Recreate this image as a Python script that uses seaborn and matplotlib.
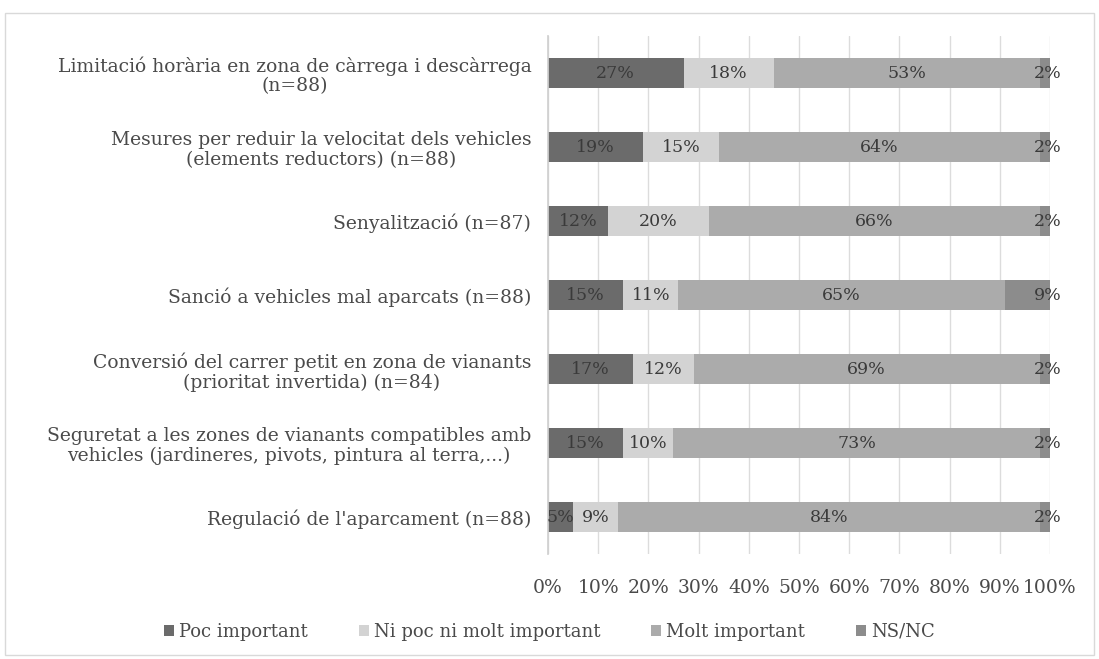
import matplotlib
matplotlib.use("Agg")
import matplotlib.pyplot as plt
import seaborn as sns
import pandas as pd
import numpy as np
from matplotlib.patches import Rectangle, Patch

categories = [
    "Limitació horària en zona de càrrega i descàrrega\n(n=88)",
    "Mesures per reduir la velocitat dels vehicles\n(elements reductors) (n=88)",
    "Senyalització (n=87)",
    "Sanció a vehicles mal aparcats (n=88)",
    "Conversió del carrer petit en zona de vianants\n(prioritat invertida) (n=84)",
    "Seguretat a les zones de vianants compatibles amb\nvehicles (jardineres, pivots, pintura al terra,...)",
    "Regulació de l'aparcament (n=88)",
]
series_names = ["Poc important", "Ni poc ni molt important", "Molt important", "NS/NC"]
poc = [27, 19, 12, 15, 17, 15, 5]
ni = [18, 15, 20, 11, 12, 10, 9]
molt = [53, 64, 66, 65, 69, 73, 84]
nsnc = [2, 2, 2, 9, 2, 2, 2]
tick_labels = ["0%", "10%", "20%", "30%", "40%", "50%", "60%", "70%", "80%", "90%", "100%"]

colors = ["#6b6b6b", "#d3d3d3", "#ababab", "#8c8c8c"]
text_color = "#4a4a4a"

sns.set_theme(style="white")
plt.rcParams['font.family'] = ['DejaVu Serif']

df = pd.DataFrame({"cat": categories, series_names[0]: poc, series_names[1]: ni,
                   series_names[2]: molt, series_names[3]: nsnc})
vals = df[series_names].to_numpy(dtype=float)
cum = vals.cumsum(axis=1)

fig = plt.figure(figsize=(10.99, 6.59), dpi=100)
ax = fig.add_axes([0.4986, 0.1593, 0.4568, 0.786])

# stacked via overlapping cumulative bars (draw largest first)
for j in range(len(series_names) - 1, -1, -1):
    sns.barplot(x=cum[:, j], y=df["cat"], color=colors[j], orient="h",
                width=0.41, ax=ax, saturation=1, linewidth=0)

# value labels
for i in range(len(categories)):
    for j in range(len(series_names)):
        xc = cum[i, j] - vals[i, j] / 2
        if j == 3:
            xc = cum[i, j] - 0.4
        ax.text(xc, i, f"{int(vals[i, j])}%", ha="center", va="center",
                fontsize=12.5, color="#3a3a3a")

ax.set_xlim(0, 100)
ax.set_ylim(len(categories) - 0.5, -0.5)
ax.set_xticks(np.arange(0, 101, 10))
ax.set_xticklabels(tick_labels)
ax.set_xlabel("")
ax.set_ylabel("")
ax.xaxis.grid(True, color="#dcdcdc", linewidth=1)
ax.set_axisbelow(True)
for s in ["top", "right", "bottom"]:
    ax.spines[s].set_visible(False)
ax.spines["left"].set_color("#d0d0d0")
ax.tick_params(axis="both", length=0, colors=text_color)
ax.tick_params(axis="y", pad=12, labelsize=13.5)
ax.tick_params(axis="x", pad=18, labelsize=13.5)
for lab in ax.get_yticklabels():
    lab.set_horizontalalignment("right")
    lab.set_multialignment("center")
    lab.set_linespacing(1.12)

handles = [Patch(facecolor=colors[k], edgecolor="none") for k in range(4)]
fig.legend(handles, series_names, loc="center", bbox_to_anchor=(0.5, 0.041), ncol=4,
           frameon=False, fontsize=13, handlelength=0.55, handleheight=0.55,
           handletextpad=0.3, columnspacing=2.8, labelcolor=text_color)

fig.patches.append(Rectangle((0.005, 0.006), 0.99, 0.975, transform=fig.transFigure,
                             fill=False, edgecolor="#d9d9d9", linewidth=1))

fig.savefig("out.png", dpi=100)
